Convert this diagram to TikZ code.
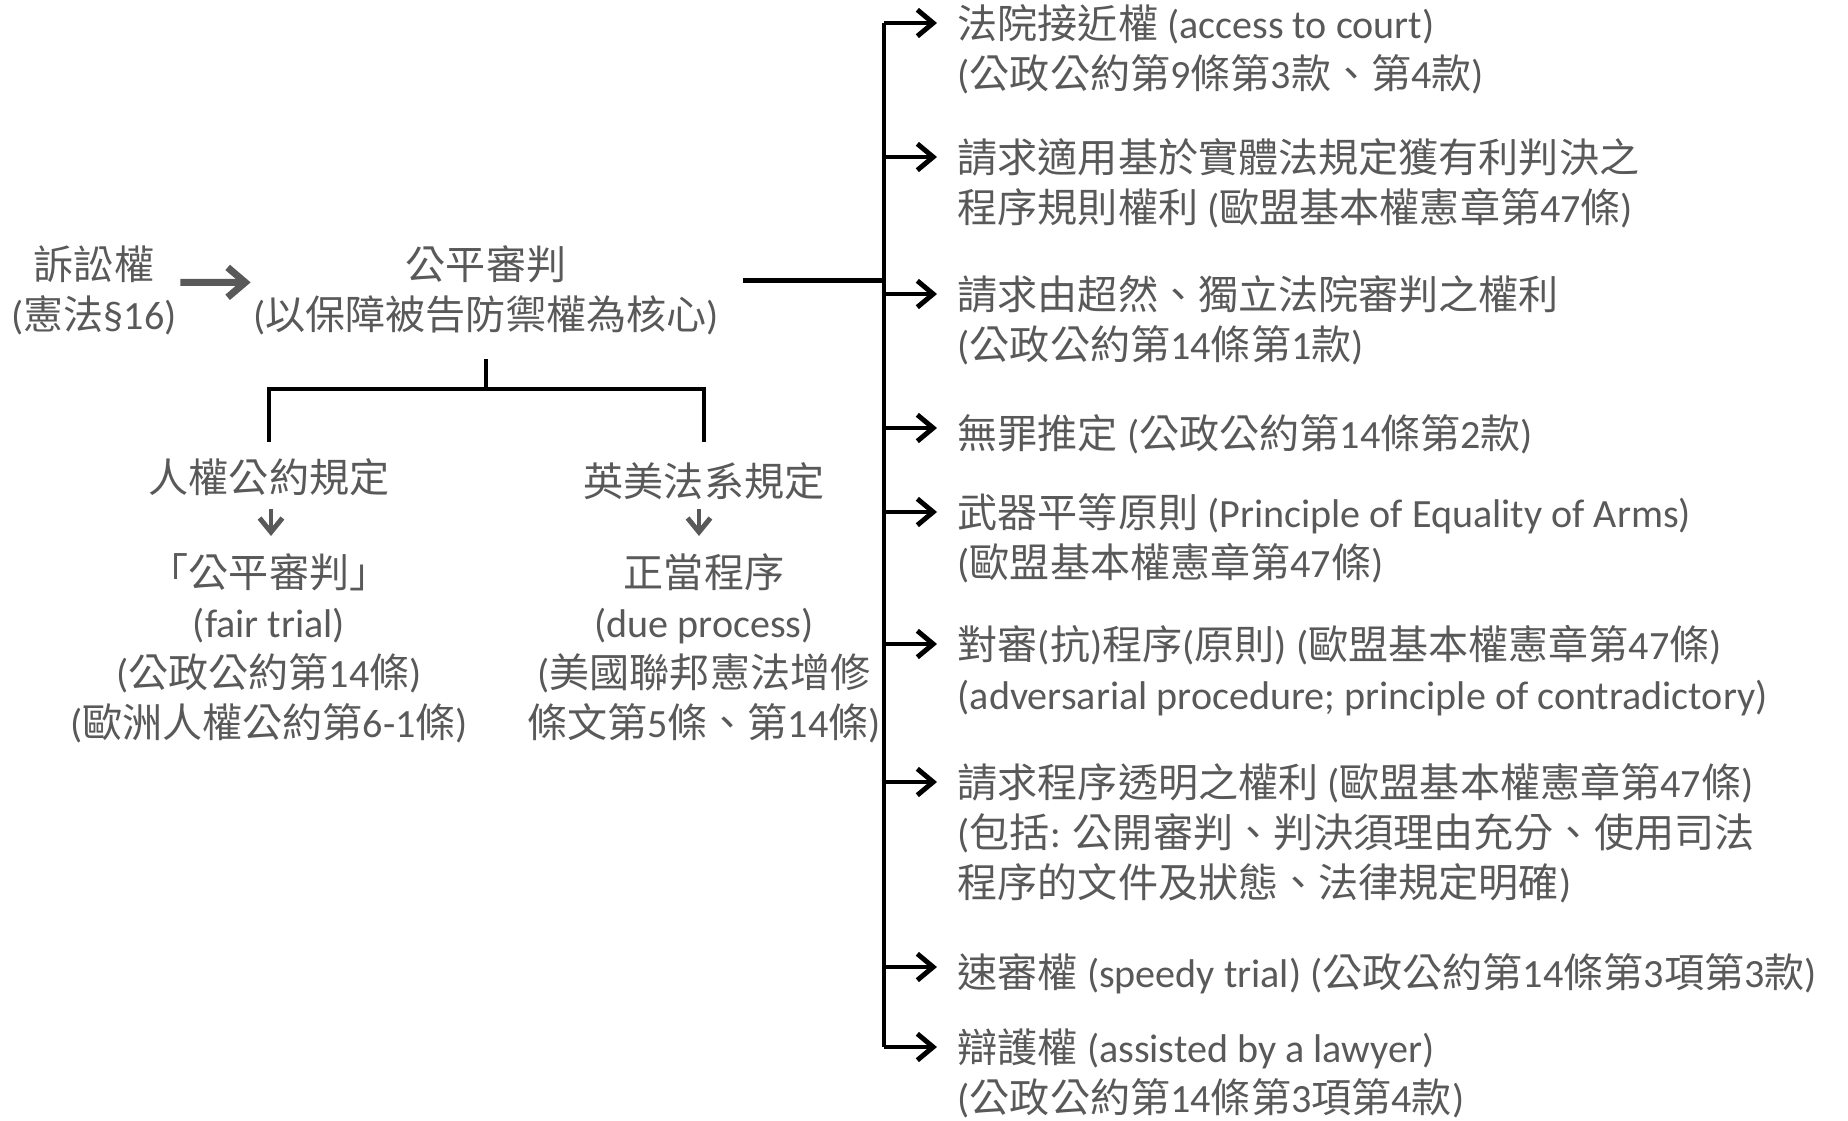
\documentclass[tikz,border=0pt]{standalone}
\usepackage{fontspec}
\setmainfont{Carlito}
\newfontfamily\cjkfont{Noto Sans CJK TC}
\newfontfamily\latfont{Carlito}
\usetikzlibrary{calc,arrows.meta}

% CJK runs in Noto Sans CJK TC, everything else in Carlito
\XeTeXinterchartokenstate=1
\newXeTeXintercharclass\cjkclass
\newcount\cjkcnt
\newcommand\cjkrange[2]{\cjkcnt=#1\relax
  \loop\XeTeXcharclass\cjkcnt=\cjkclass
  \ifnum\cjkcnt<#2\relax\advance\cjkcnt by 1\repeat}
\cjkrange{"3000}{"303F}
\cjkrange{"4E00}{"9FFF}
\cjkrange{"FF00}{"FFEF}
\XeTeXinterchartoks 0 \cjkclass={\cjkfont}
\XeTeXinterchartoks 4095 \cjkclass={\cjkfont}
\XeTeXinterchartoks \cjkclass 0={\latfont}
\XeTeXinterchartoks \cjkclass 4095={\latfont}

\definecolor{txtgray}{HTML}{595959}

\begin{document}
\begin{tikzpicture}[x=0.01cm,y=-0.01cm,
  txt/.style={text=txtgray,font=\fontsize{11.4pt}{14.2pt}\selectfont,inner sep=0pt,
    execute at begin node={\rule{0pt}{11pt}}},
  line/.style={line width=1.4pt},
  arr/.style={line width=1.4pt,-{Straight Barb[length=4.5pt,width=7.5pt]}},
  garr/.style={txtgray,line width=2pt,-{Straight Barb[length=5pt,width=8.5pt]}},
  darr/.style={txtgray,line width=1.4pt,-{Straight Barb[length=4pt,width=6.5pt]}}]
\useasboundingbox (0,0) rectangle (1848,1121);

% left part
\draw (94,245) node[txt,anchor=north,align=center] (Suit) {訴訟權\\(憲法§16)};
\draw (486,245) node[txt,anchor=north,align=center] (Fair) {公平審判\\(以保障被告防禦權為核心)};
	\draw (269,453) node[txt,anchor=north] (Conv) {人權公約規定};
	\draw (704,457) node[txt,anchor=north] (Common) {英美法系規定};
		\draw (269,553) node[txt,anchor=north,align=center] (FairTrial) {「公平審判」\\(fair trial)\\(公政公約第14條)\\(歐洲人權公約第6-1條)};
		\draw (704,553) node[txt,anchor=north,align=center] (DueProc) {正當程序\\(due process)\\(美國聯邦憲法增修\\條文第5條、第14條)};

% right part
\draw (957,4) node[txt,anchor=north west,align=left] (Access) {法院接近權 (access to court)\\(公政公約第9條第3款、第4款)};
\draw (957,138) node[txt,anchor=north west,align=left] (Favour) {請求適用基於實體法規定獲有利判決之\\程序規則權利 (歐盟基本權憲章第47條)};
\draw (957,275) node[txt,anchor=north west,align=left] (Indep) {請求由超然、獨立法院審判之權利\\(公政公約第14條第1款)};
\draw (957,409) node[txt,anchor=north west,align=left] (Innoc) {無罪推定 (公政公約第14條第2款)};
\draw (957,493) node[txt,anchor=north west,align=left] (Arms) {武器平等原則 (Principle of Equality of Arms)\\(歐盟基本權憲章第47條)};
\draw (957,625) node[txt,anchor=north west,align=left] (Advers) {對審(抗)程序(原則) (歐盟基本權憲章第47條)\\(adversarial procedure; principle of contradictory)};
\draw (957,763) node[txt,anchor=north west,align=left] (Transp) {請求程序透明之權利 (歐盟基本權憲章第47條)\\(包括: 公開審判、判決須理由充分、使用司法\\程序的文件及狀態、法律規定明確)};
\draw (957,948) node[txt,anchor=north west,align=left] (Speedy) {速審權 (speedy trial) (公政公約第14條第3項第3款)};
\draw (957,1028) node[txt,anchor=north west,align=left] (Lawyer) {辯護權 (assisted by a lawyer)\\(公政公約第14條第3項第4款)};

\coordinate (Spine) at (884,0);
\foreach \n in {Access,Favour,Indep,Innoc,Arms,Advers,Transp,Speedy,Lawyer}{
  \path ($(\n.north west)+(-20,19)$) coordinate (\n-tip);
  \draw[arr] (Spine |- \n-tip) -- (\n-tip);
}
\draw[line] (Spine |- Access-tip) -- (Spine |- Lawyer-tip);

% connections
\draw[garr] ($(Suit.east)+(3,-8)$) -- ($(Fair.west)+(-2,-8)$);
\coordinate (FairOut) at ($(Fair.east)+(24,-10)$);
\draw[line] (FairOut) -- (Spine |- FairOut);
\draw[line] ($(Fair.north)+(0,114)$) coordinate (Split) -- ++(0,30) coordinate (Bar);
\draw[line] ($(Conv.north)+(0,-11)$) |- (Bar) -| ($(Common.north)+(0,-15)$);
\draw[darr] ($(Conv.north)+(2,56)$) -- ($(FairTrial.north)+(2,-17)$);
\draw[darr] ($(Common.north)+(-5,52)$) -- ($(DueProc.north)+(-5,-17)$);
\end{tikzpicture}
\end{document}
